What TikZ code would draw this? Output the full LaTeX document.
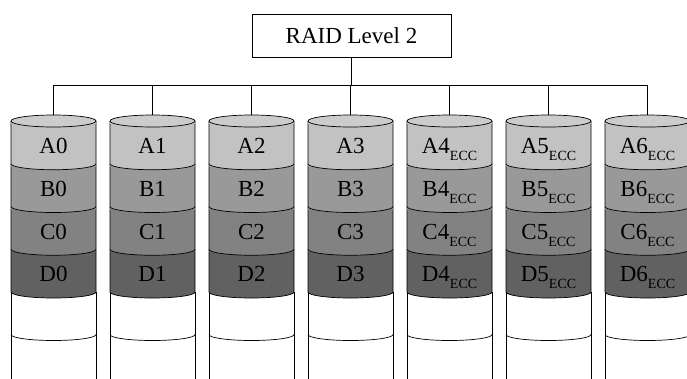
\documentclass[tikz,border=0pt]{standalone}
\usepackage{fontspec}
\setmainfont{Liberation Serif}
\begin{document}
\begin{tikzpicture}[x=1pt,y=1pt,
  wire/.style={draw=black,line width=0.9pt},
  rim/.style={draw=black,line width=0.7pt},
  title/.style={draw=black,line width=0.8pt,fill=white,minimum width=199pt,minimum height=43pt,inner sep=0pt,font=\fontsize{23}{23}\selectfont},
  lbl/.style={anchor=base,inner sep=0pt,font=\fontsize{23}{23}\selectfont}]
\definecolor{capface}{gray}{0.80}
\definecolor{bandA}{gray}{0.76}
\definecolor{bandB}{gray}{0.60}
\definecolor{bandC}{gray}{0.51}
\definecolor{bandD}{gray}{0.38}
\newcommand{\ecc}[1]{#1\raisebox{-7pt}{\fontsize{14}{14}\selectfont ECC}}
\useasboundingbox (0,0) rectangle (687,-378);
\clip (0,0) rectangle (687,-378);
% controller box
\node[title] (box) at (351.5,-35.5) {RAID Level 2};
% disks
\def\rx{42.5}
\def\ry{6}
\foreach \i in {0,...,6}{
  \pgfmathsetmacro{\cx}{53.5+99*\i}
  \pgfmathsetmacro{\xl}{\cx-\rx}
  \pgfmathsetmacro{\xr}{\cx+\rx}
  \coordinate (bus\i) at (\cx,-85);
  \coordinate (top\i) at (\cx,-115);
  % empty lower part of the disk
  \fill[white] (\xl,-292) rectangle (\xr,-380);
  \draw[rim] (\xl,-380) -- (\xl,-292);
  \draw[rim] (\xr,-380) -- (\xr,-292);
  \draw[rim] (\xl,-334.5) arc[start angle=180,end angle=360,x radius=\rx,y radius=\ry];
  % data stripes, drawn bottom-up so each covers the one below
  \foreach \k/\c in {3/bandD,2/bandC,1/bandB,0/bandA}{
    \pgfmathsetmacro{\yt}{-121-42.75*\k}
    \pgfmathsetmacro{\yb}{\yt-42.75}
    \filldraw[rim,fill=\c] (\xl,\yt) -- (\xl,\yb)
      arc[start angle=180,end angle=360,x radius=\rx,y radius=\ry]
      -- (\xr,\yt);
    \fill[\c] (\xl+0.4,\yt) rectangle (\xr-0.4,\yt-3);
  }
  % top face
  \filldraw[rim,fill=capface] (\cx,-121) ellipse[x radius=\rx,y radius=\ry];
}
% stripe labels
\foreach \i in {0,...,3}{
  \pgfmathsetmacro{\cx}{53.5+99*\i}
  \node[lbl] (a\i) at (\cx,-153.5) {A\i};
  \node[lbl] (b\i) at (\cx,-196.25) {B\i};
  \node[lbl] (c\i) at (\cx,-239) {C\i};
  \node[lbl] (d\i) at (\cx,-281.75) {D\i};
}
\foreach \i in {4,5,6}{
  \pgfmathsetmacro{\cx}{53.5+99*\i}
  \node[lbl] (a\i) at (\cx,-153.5) {\ecc{A\i}};
  \node[lbl] (b\i) at (\cx,-196.25) {\ecc{B\i}};
  \node[lbl] (c\i) at (\cx,-239) {\ecc{C\i}};
  \node[lbl] (d\i) at (\cx,-281.75) {\ecc{D\i}};
}
% connections
\draw[wire] (box.south) -- (box.south |- bus0);
\draw[wire] (bus0) -- (bus6);
\foreach \i in {0,...,6}{
  \draw[wire] (bus\i) -- (top\i);
}
\end{tikzpicture}
\end{document}
